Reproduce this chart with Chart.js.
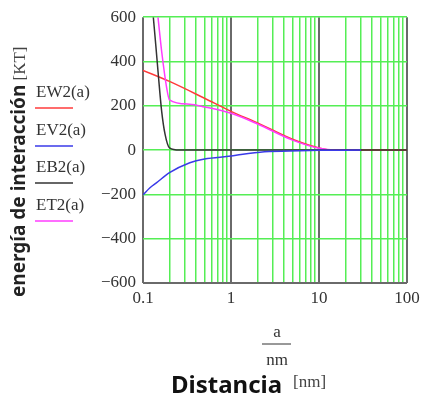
<!DOCTYPE html>
<html>
<head>
<meta charset="utf-8">
<script src="https://cdn.jsdelivr.net/npm/chart.js@4.4.1/dist/chart.umd.min.js"></script>
<style>
  html, body { margin: 0; padding: 0; background: #fff; }
  #wrap { width: 425px; height: 398px; position: relative; }
</style>
</head>
<body>
<div id="wrap"><canvas id="c" width="425" height="398"></canvas></div>
<script>
// distances a [nm] and energies [KT]
var aEW = [0.1, 0.2, 0.5, 1, 2, 5, 10, 15, 100];
var EW2 = [360, 310, 234, 175, 123, 49, 10, 0, 0];

var aEV = [0.1, 0.12, 0.143, 0.2, 0.34, 0.5, 1, 1.3, 2.4, 6, 10, 30];
var EV2 = [-202, -170, -147, -102, -57, -40, -27, -20, -8, -3, -1, 0];

var aEB = [0.131, 0.14, 0.15, 0.163, 0.178, 0.2, 0.26, 100];
var EB2 = [600, 470, 330, 175, 72, 10, 0, 0];

var aET = [0.148, 0.163, 0.186, 0.2, 0.34, 0.5, 1, 2, 5, 10, 15, 30];
var ET2 = [600, 445, 280, 227, 207, 195, 166, 118, 45, 8, 0, 0];

var xMajorTicks = [0.1, 1, 10, 100];
var yTicks = [-600, -400, -200, 0, 200, 400, 600];
var seriesNames = ['EW2(a)', 'EV2(a)', 'EB2(a)', 'ET2(a)'];
var seriesColors = ['#ff3b3b', '#3a3ae8', '#333333', '#ff3cff'];

// minor grid values 0.1..100 (1..9 per decade)
var xGrid = [];
xMajorTicks.slice(0, 3).forEach(function (d) {
    for (var k = 1; k < 10; k++) xGrid.push(+(d * k).toPrecision(3));
});
xGrid.push(100);

function isMajor(v) {
    return xMajorTicks.some(function (m) { return Math.abs(m - v) / m < 1e-6; });
}

function pts(xs, ys) {
    return xs.map(function (x, i) { return { x: x, y: ys[i] }; });
}

var green = '#55ee55';
var dark = '#6a6a6a';

var annotations = {
    id: 'annotations',
    afterDraw: function (chart) {
        var c = chart.ctx;
        c.save();
        // legend
        var ly = [97, 135, 172, 210];
        c.font = '17px "Liberation Serif"';
        c.textBaseline = 'alphabetic';
        c.textAlign = 'left';
        for (var i = 0; i < 4; i++) {
            c.fillStyle = '#333';
            c.fillText(seriesNames[i], 36, ly[i]);
            c.strokeStyle = seriesColors[i];
            c.lineWidth = 1.5;
            c.beginPath();
            c.moveTo(35, ly[i] + 11);
            c.lineTo(73, ly[i] + 11);
            c.stroke();
        }
        // y title (rotated)
        c.translate(25, 297);
        c.rotate(-Math.PI / 2);
        c.fillStyle = '#222';
        c.font = 'bold 19px "Noto Sans"';
        var t1 = 'energía de interacción';
        c.fillText(t1, 0, 0);
        var w1 = c.measureText(t1).width;
        c.font = '17px "Liberation Serif"';
        c.fillStyle = '#444';
        c.fillText(' [KT]', w1, 0);
        c.restore();

        c.save();
        // x label fraction a / nm
        c.fillStyle = '#333';
        c.textAlign = 'center';
        c.font = '17px "Liberation Serif"';
        c.fillText('a', 277, 337);
        c.strokeStyle = '#333';
        c.lineWidth = 1;
        c.beginPath();
        c.moveTo(262, 344);
        c.lineTo(291, 344);
        c.stroke();
        c.fillText('nm', 277, 365);
        // Distancia [nm]
        c.textAlign = 'left';
        c.fillStyle = '#111';
        c.font = 'bold 24px "Noto Sans"';
        c.fillText('Distancia', 171, 393);
        c.font = '17px "Liberation Serif"';
        c.fillStyle = '#444';
        c.fillText('[nm]', 293, 387);
        c.restore();
    }
};

var ctx = document.getElementById('c').getContext('2d');
var chart = new Chart(ctx, {
    type: 'line',
    data: {
        datasets: [
            { label: seriesNames[1], data: pts(aEV, EV2), borderColor: seriesColors[1] },
            { label: seriesNames[2], data: pts(aEB, EB2), borderColor: seriesColors[2] },
            { label: seriesNames[3], data: pts(aET, ET2), borderColor: seriesColors[3] },
            { label: seriesNames[0], data: pts(aEW, EW2), borderColor: seriesColors[0] }
        ].map(function (d) {
            d.borderWidth = 1.5;
            d.pointRadius = 0;
            d.fill = false;
            d.cubicInterpolationMode = 'monotone';
            return d;
        })
    },
    options: {
        responsive: false,
        animation: false,
        layout: { padding: { top: 16, right: 18, left: 0, bottom: 0 } },
        plugins: { legend: { display: false }, tooltip: { enabled: false } },
        scales: {
            x: {
                type: 'logarithmic',
                min: 0.1,
                max: 100,
                afterBuildTicks: function (scale) {
                    scale.ticks = xGrid.map(function (v) { return { value: v, major: isMajor(v) }; });
                },
                afterFit: function (scale) { scale.height = 115; },
                border: { display: false },
                grid: {
                    drawTicks: false,
                    color: function (c) { return isMajor(c.tick.value) ? dark : green; },
                    lineWidth: function (c) { return isMajor(c.tick.value) ? 2 : 1.5; }
                },
                ticks: {
                    autoSkip: false,
                    maxRotation: 0,
                    padding: 5,
                    color: '#333',
                    font: { family: 'Liberation Serif', size: 17 },
                    callback: function (v) { return isMajor(v) ? String(v) : ''; }
                }
            },
            y: {
                min: -600,
                max: 600,
                afterBuildTicks: function (scale) {
                    scale.ticks = yTicks.map(function (v) { return { value: v }; });
                },
                afterFit: function (scale) { scale.width = 143; },
                border: { display: false },
                grid: {
                    drawTicks: false,
                    color: function (c) { return c.tick.value === -600 ? dark : green; },
                    lineWidth: function (c) { return c.tick.value === -600 ? 2 : 1.5; }
                },
                ticks: {
                    padding: 7,
                    color: '#333',
                    font: { family: 'Liberation Serif', size: 17 },
                    callback: function (v) { return v < 0 ? '\u2212' + Math.abs(v) : String(v); }
                }
            }
        }
    },
    plugins: [annotations]
});
</script>
</body>
</html>
